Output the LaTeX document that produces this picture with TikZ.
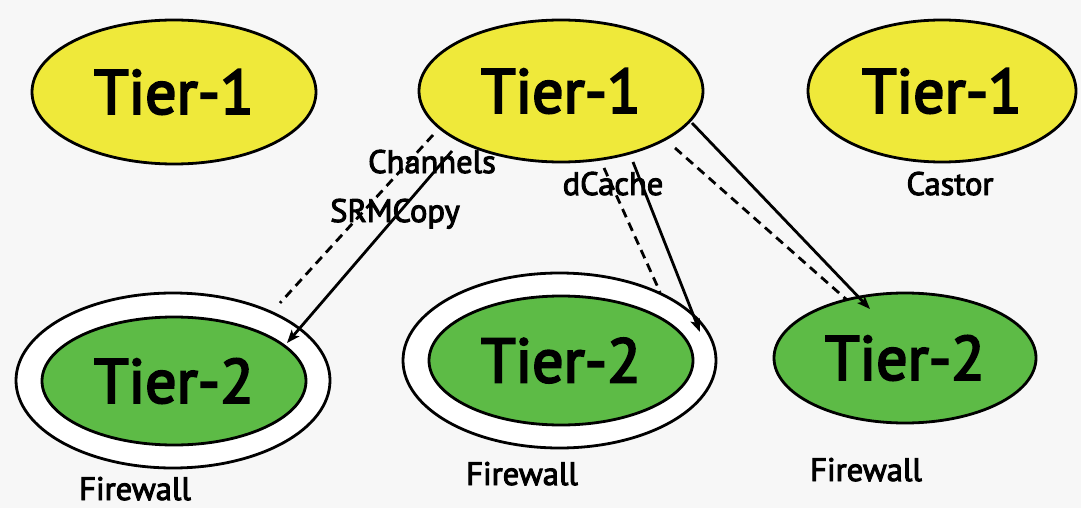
\documentclass[tikz,border=0pt]{standalone}
\usepackage{fontspec}
\setmainfont{PT Sans}
\newfontfamily\lblfont{PT Sans}[FakeBold=3]
\newfontfamily\bigfont{PT Sans}[FakeBold=3.5]
\usetikzlibrary{shapes.geometric,arrows.meta}
\definecolor{bg}{HTML}{F7F7F7}
\definecolor{tyellow}{HTML}{EFE93A}
\definecolor{tgreen}{HTML}{5DBB46}
\tikzset{
  tierone/.style={ellipse,draw=black,line width=2.8pt,fill=tyellow,inner sep=0pt,
    font=\bigfont\fontsize{62}{62}\selectfont},
  tiertwo/.style={ellipse,draw=black,line width=2.8pt,fill=tgreen,inner sep=0pt,
    font=\bigfont\fontsize{62}{62}\selectfont},
  fwring/.style={ellipse,draw=black,line width=2.8pt,fill=white,inner sep=0pt},
  lbl/.style={anchor=base,inner sep=0pt,font=\lblfont\fontsize{32.5}{32.5}\selectfont},
  conn/.style={line width=2.8pt,-{Stealth[length=13pt,width=10pt,inset=3pt]}},
  dconn/.style={line width=2.8pt,dash pattern=on 9pt off 6pt},
}
\begin{document}
\begin{tikzpicture}[x=1pt,y=-1pt]
\fill[bg] (0,0) rectangle (1081,508);
\useasboundingbox (0,0) rectangle (1081,508);

% Tier-1 nodes
\node[tierone,minimum width=284pt,minimum height=144pt] (t1a) at (174,92) {Tier-1};
\node[tierone,minimum width=284pt,minimum height=142pt] (t1b) at (561,91) {Tier-1};
\node[tierone,minimum width=268pt,minimum height=142pt] (t1c) at (942,91) {Tier-1};

% Firewall rings
\node[fwring,minimum width=314pt,minimum height=175pt] (fwa) at (173,380.5) {};
\node[fwring,minimum width=313pt,minimum height=175pt] (fwb) at (559.5,360.5) {};

% Tier-2 nodes
\node[tiertwo,minimum width=264pt,minimum height=128pt] (t2a) at (174,381) {Tier-2};
\node[tiertwo,minimum width=264pt,minimum height=129pt] (t2b) at (561,360.5) {Tier-2};
\node[tiertwo,minimum width=262pt,minimum height=130pt] (t2c) at (905,358) {Tier-2};

% labels
\node[lbl] (lchan) at (432,173) {Channels};
\node[lbl] (lsrm) at (395,222) {SRMCopy};
\node[lbl] (ldc) at (613,195) {dCache};
\node[lbl] (lcas) at (950,195) {Castor};
\node[lbl] (lfwa) at (135,500) {Firewall};
\node[lbl] (lfwb) at (522,485) {Firewall};
\node[lbl] (lfwc) at (866,481) {Firewall};

% connector end points
\coordinate (s1) at (433,135);
\coordinate (e1) at (280,303);
\coordinate (s2) at (452,151);
\coordinate (e2) at (287,343);
\coordinate (s3) at (604,168);
\coordinate (e3) at (660,292);
\coordinate (s4) at (633,162);
\coordinate (e4) at (700,332);
\coordinate (s5) at (675,148);
\coordinate (e5) at (847,300);
\coordinate (s6) at (692,123);
\coordinate (e6) at (870,309);

\draw[dconn] (s1) -- (e1);
\draw[conn] (s2) -- (e2);
\draw[dconn] (s3) -- (e3);
\draw[conn] (s4) -- (e4);
\draw[dconn] (s5) -- (e5);
\draw[conn] (s6) -- (e6);
\end{tikzpicture}
\end{document}
